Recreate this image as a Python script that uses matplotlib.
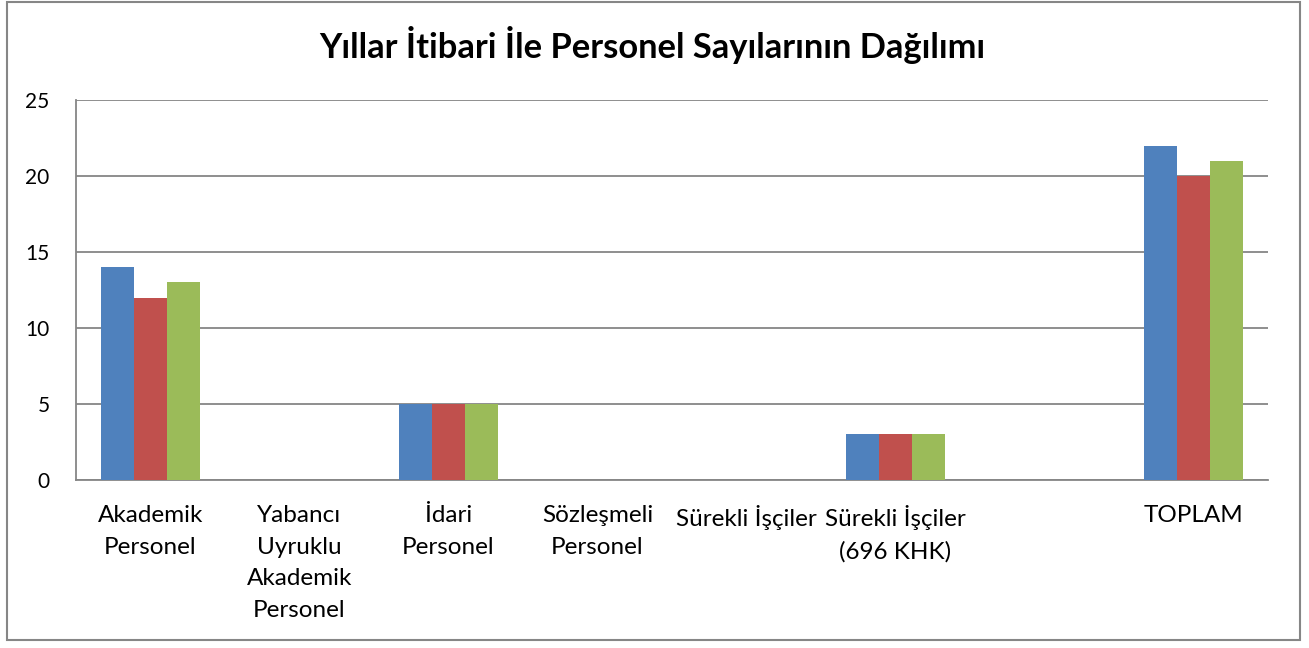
import matplotlib
matplotlib.use("Agg")
import matplotlib.pyplot as plt
from matplotlib.patches import Rectangle
import numpy as np

plt.rcParams['font.family'] = ['Lato', 'DejaVu Sans']

title = "Yıllar İtibari İle Personel Sayılarının Dağılımı"
categories = ["Akademik\nPersonel", "Yabancı\nUyruklu\nAkademik\nPersonel", "İdari\nPersonel",
              "Sözleşmeli\nPersonel", "Sürekli İşçiler", "Sürekli İşçiler\n(696 KHK)", "", "TOPLAM"]
series1 = [14, 0, 5, 0, 0, 3, 0, 22]
series2 = [12, 0, 5, 0, 0, 3, 0, 20]
series3 = [13, 0, 5, 0, 0, 3, 0, 21]
colors = ["#4F81BD", "#C0504D", "#9BBB59"]
yticks = [0, 5, 10, 15, 20, 25]

W, H = 1309, 648
fig = plt.figure(figsize=(W / 100, H / 100), dpi=100)
ax = fig.add_axes([76 / W, 1 - 480 / H, (1268 - 76) / W, (480 - 100) / H])

x = np.arange(len(categories))
bw = 0.222
for i, (s, c) in enumerate(zip([series1, series2, series3], colors)):
    ax.bar(x + (i - 1) * bw, s, width=bw, color=c, edgecolor='none', zorder=3)

ax.set_xlim(-0.5, len(categories) - 0.5)
ax.set_ylim(0, 25)
ax.set_yticks(yticks)
ax.set_yticklabels([str(v) for v in yticks], fontsize=15)
ax.set_xticks(x)
ax.set_xticklabels(categories, fontsize=17.5, linespacing=1.62, va='top')
ax.tick_params(axis='both', length=0)
ax.tick_params(axis='x', pad=18)
ax.tick_params(axis='y', pad=19)
ax.grid(axis='y', color='#868686', linewidth=1.3, zorder=0)
for sp in ['top', 'right']:
    ax.spines[sp].set_visible(False)
for sp in ['left', 'bottom']:
    ax.spines[sp].set_color('#868686')
    ax.spines[sp].set_linewidth(1.3)

fig.text(652 / W, 1 - 45 / H, title, ha='center', va='center', fontsize=24.8, fontweight='bold')

fig.patches.append(Rectangle((7 / W, 1 - 640 / H), (1300 - 7) / W, (640 - 2) / H,
                             transform=fig.transFigure, fill=False, edgecolor='#868686',
                             linewidth=1.5))

fig.savefig("out.png", dpi=100, facecolor='white')
